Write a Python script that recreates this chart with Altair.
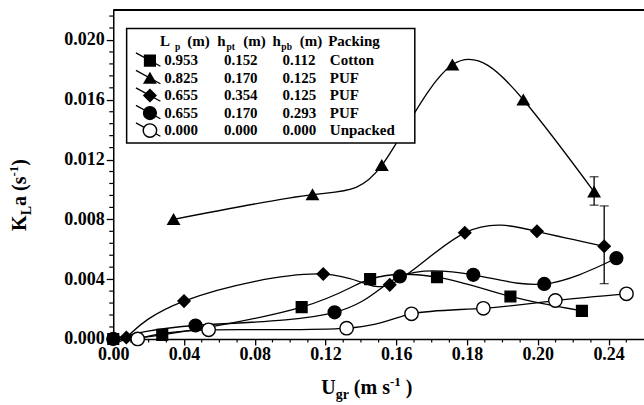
import altair as alt
import pandas as pd

# ---------------- data ----------------
series_keys = ["cotton", "puf_a", "puf_b", "puf_c", "unpacked"]

sq_x = [0.0, 0.0277, 0.1065, 0.1452, 0.1830, 0.2245, 0.2649]
sq_y = [0.0, 0.00027, 0.00213, 0.0040, 0.00413, 0.00284, 0.00188]

tri_x = [0.0341, 0.1126, 0.1518, 0.1917, 0.2318, 0.2718]
tri_y = [0.0080, 0.00965, 0.01161, 0.01834, 0.0160, 0.00984]

dia_x = [0.0, 0.0074, 0.0400, 0.1187, 0.1563, 0.1987, 0.2395, 0.2775]
dia_y = [0.0, 0.0001, 0.00253, 0.00434, 0.00362, 0.0071, 0.0072, 0.0062]

cir_x = [0.0, 0.0465, 0.1251, 0.1620, 0.2035, 0.2436, 0.2844]
cir_y = [0.0, 0.0009, 0.00178, 0.00418, 0.00429, 0.00368, 0.0054]

opn_x = [0.0138, 0.0539, 0.1319, 0.1686, 0.2092, 0.2499, 0.2901]
opn_y = [0.0, 0.00061, 0.00072, 0.00168, 0.00205, 0.00257, 0.00302]

# error bars (triangle last point, diamond last point)
err_x = [0.2718, 0.2775]
err_lo = [0.00895, 0.0037]
err_hi = [0.01085, 0.0089]

# axis ticks
x_tick_values = [0.0, 0.04, 0.08, 0.12, 0.16, 0.20, 0.24, 0.28]
x_tick_labels = ["0.00", "0.04", "0.08", "0.12", "0.16", "0.18", "0.20", "0.24"]
y_tick_values = [0.0, 0.004, 0.008, 0.012, 0.016, 0.020]
x_minor = [round(0.01 * k, 2) for k in range(1, 30) if k % 4 != 0]
y_minor = [round(0.0008 * k, 4) for k in range(1, 28) if k % 5 != 0]

# legend table
leg_lp = ["0.953", "0.825", "0.655", "0.655", "0.000"]
leg_hpt = ["0.152", "0.170", "0.354", "0.170", "0.000"]
leg_hpb = ["0.112", "0.125", "0.125", "0.293", "0.000"]
leg_pack = ["Cotton", "PUF", "PUF", "PUF", "Unpacked"]

# ---------------- styles / layout ----------------
shapes = ["square", "triangle-up", "diamond", "circle", "circle"]
fills = ["black", "black", "black", "black", "white"]
sizes = [115, 180, 85, 140, 100]

W, H = 531, 329
OX, OY = 113.3, 10          # plot origin in the page
X_MAX, Y_MAX = 0.30, 0.022
FONT = "Liberation Serif"

rows = []
for key, xs_, ys_ in zip(series_keys, [sq_x, tri_x, dia_x, cir_x, opn_x],
                         [sq_y, tri_y, dia_y, cir_y, opn_y]):
    for a, b in zip(xs_, ys_):
        rows.append({"series": key, "x": a, "y": b})
df = pd.DataFrame(rows)

err_df = pd.DataFrame({"x": err_x, "lo": err_lo, "hi": err_hi})

xsc = alt.Scale(domain=[0, X_MAX], nice=False, zero=False)
ysc = alt.Scale(domain=[0, Y_MAX], nice=False, zero=False)
shape_scale = alt.Scale(domain=series_keys, range=shapes)
fill_scale = alt.Scale(domain=series_keys, range=fills)
size_scale = alt.Scale(domain=series_keys, range=sizes)

label_js = "[" + ",".join("'%s'" % l for l in x_tick_labels) + "]"
x_axis = alt.Axis(values=x_tick_values, labelExpr=label_js + "[round(datum.value/0.04)]",
                  title=None, grid=False, tickSize=6, tickWidth=1.3, tickColor="black",
                  domainColor="black", domainWidth=1.5, labelFont=FONT,
                  labelFontWeight="bold", labelFontSize=18, labelColor="black",
                  labelPadding=1, labelFlush=False, labelOverlap=False)
y_axis = alt.Axis(values=y_tick_values, format=".3f", title=None, grid=False,
                  tickSize=7, tickWidth=1.3, tickColor="black", domainColor="black",
                  domainWidth=1.5, labelFont=FONT, labelFontWeight="bold",
                  labelFontSize=18, labelColor="black", labelPadding=2,
                  labelFlush=False, labelOverlap=False)

X = alt.X("x:Q", scale=xsc, axis=x_axis)
Y = alt.Y("y:Q", scale=ysc, axis=y_axis)

lines = alt.Chart(df).mark_line(interpolate="natural", color="black", strokeWidth=1.3).encode(
    x=X, y=Y, detail="series:N")

points = alt.Chart(df).mark_point(filled=True, stroke="black", strokeWidth=1.4, opacity=1).encode(
    x=alt.X("x:Q", scale=xsc),
    y=alt.Y("y:Q", scale=ysc),
    shape=alt.Shape("series:N", scale=shape_scale, legend=None),
    fill=alt.Fill("series:N", scale=fill_scale, legend=None),
    size=alt.Size("series:N", scale=size_scale, legend=None),
)

err_rule = alt.Chart(err_df).mark_rule(color="black", strokeWidth=1.3).encode(
    x=alt.X("x:Q", scale=xsc), y=alt.Y("lo:Q", scale=ysc), y2="hi:Q")
cap_lo = alt.Chart(err_df).mark_tick(orient="horizontal", color="black", size=9, thickness=1.3).encode(
    x=alt.X("x:Q", scale=xsc), y=alt.Y("lo:Q", scale=ysc))
cap_hi = alt.Chart(err_df).mark_tick(orient="horizontal", color="black", size=9, thickness=1.3).encode(
    x=alt.X("x:Q", scale=xsc), y=alt.Y("hi:Q", scale=ysc))

xminor = alt.Chart(pd.DataFrame({"v": x_minor})).mark_rule(color="black", strokeWidth=1.2).encode(
    x=alt.X("v:Q", scale=xsc), y=alt.value(H), y2=alt.value(H + 3.5))
yminor = alt.Chart(pd.DataFrame({"v": y_minor})).mark_rule(color="black", strokeWidth=1.2).encode(
    y=alt.Y("v:Q", scale=ysc), x=alt.value(0), x2=alt.value(-4))

one = pd.DataFrame({"a": [0]})
top_border = alt.Chart(one).mark_rule(color="black", strokeWidth=2).encode(
    x=alt.value(0), x2=alt.value(W), y=alt.value(0))

# ---------------- legend box ----------------
box = alt.Chart(one).mark_rect(fill="white", stroke="black", strokeWidth=1.5).encode(
    x=alt.value(126.7 - OX), x2=alt.value(415 - OX), y=alt.value(28.3 - OY), y2=alt.value(143 - OY))

TW = {"U": 722, "g": 500, "r": 444, " ": 250, "(": 333, "m": 833, "s": 389, "-": 333,
      "1": 500, ")": 333, "K": 778, "L": 667, "a": 500, "p": 556, "t": 333, "h": 556, "b": 556}


def tw(s, size):
    return sum(TW.get(c, 500) for c in s) * size / 1000.0


def txt(s, x, y, size, angle=0):
    kw = dict(align="left", baseline="alphabetic", font=FONT, fontWeight="bold",
              fontSize=size, color="black")
    if angle:
        kw["angle"] = angle
    return alt.Chart(one).mark_text(**kw).encode(x=alt.value(x), y=alt.value(y), text=alt.value(s))


layers_extra = []
# header
hb = 45.5 - OY
for s, px, sub in [("L", 160, False), ("p", 175, True), ("(m)", 187.3, False),
                   ("h", 217.3, False), ("pt", 226.5, True), ("(m)", 243.3, False),
                   ("h", 272.7, False), ("pb", 281.5, True), ("(m)", 300, False),
                   ("Packing", 328.3, False)]:
    layers_extra.append(txt(s, px - OX, hb + (4.5 if sub else 0), 9.5 if sub else 15))

leg_df = pd.DataFrame({"series": series_keys, "row": list(range(5)), "lp": leg_lp,
                       "hpt": leg_hpt, "hpb": leg_hpb, "pack": leg_pack})
ROW0, ROWD = 65 - OY, 17.5
leg_base = alt.Chart(leg_df).transform_calculate(
    by="%f + %f * datum.row" % (ROW0, ROWD),
    sy="%f + %f * datum.row - 4.5" % (ROW0, ROWD),
    l1="%f + %f * datum.row - 12.2" % (ROW0, ROWD),
    l2="%f + %f * datum.row + 1.2" % (ROW0, ROWD),
)
for field, px in [("lp", 164.3), ("hpt", 224), ("hpb", 282.7), ("pack", 330)]:
    layers_extra.append(leg_base.mark_text(align="left", baseline="alphabetic", font=FONT,
                                           fontWeight="bold", fontSize=15, color="black").encode(
        x=alt.value(px - OX), y=alt.Y("by:Q", scale=None, axis=None), text=field + ":N"))
leg_line = leg_base.mark_rule(color="black", strokeWidth=1.3).encode(
    x=alt.value(136 - OX), x2=alt.value(160.5 - OX),
    y=alt.Y("l1:Q", scale=None, axis=None), y2="l2:Q")
leg_sym = leg_base.mark_point(filled=True, stroke="black", strokeWidth=1.4, opacity=1).encode(
    x=alt.value(150 - OX), y=alt.Y("sy:Q", scale=None, axis=None),
    shape=alt.Shape("series:N", scale=shape_scale, legend=None),
    fill=alt.Fill("series:N", scale=fill_scale, legend=None),
    size=alt.Size("series:N", scale=size_scale, legend=None))

# ---------------- axis titles (with sub/superscripts) ----------------
title_layers = []
SP = 250 * 20 / 1000.0
xt_pieces = [("U", 20, 0, 0), ("gr", 14, 5, 0), ("(m s", 20, 0, SP), ("-1", 13, -8, 0), (")", 20, 0, SP)]
xt_total = sum(tw(s, f) + g for s, f, _, g in xt_pieces)
cx, base = 367 - OX, 394 - OY
cur = cx - xt_total / 2
for s, f, off, g in xt_pieces:
    cur += g
    title_layers.append(txt(s, cur, base + off, f))
    cur += tw(s, f)

yt_pieces = [("K", 20, 0, 0), ("L", 14, 5, 0), ("a", 20, 0, 0), ("(s", 20, 0, SP), ("-1", 13, -8, 0), (")", 20, 0, 0)]
yt_total = sum(tw(s, f) + g for s, f, _, g in yt_pieces)
cy, bx = 195 - OY, 26 - OX
cur = cy + yt_total / 2
for s, f, off, g in yt_pieces:
    cur -= g
    title_layers.append(txt(s, bx + off, cur, f, angle=270))
    cur -= tw(s, f)

chart = alt.layer(
    lines, err_rule, cap_lo, cap_hi, points, xminor, yminor, top_border,
    box, leg_line, leg_sym, *layers_extra, *title_layers
).properties(
    width=W, height=H,
    autosize=alt.AutoSizeParams(type="none"),
    padding={"left": OX, "top": OY, "right": 0, "bottom": 405 - OY - H},
    background="white",
).configure_view(stroke=None)

chart.save("out.html", embed_options={"renderer": "svg", "actions": False})
